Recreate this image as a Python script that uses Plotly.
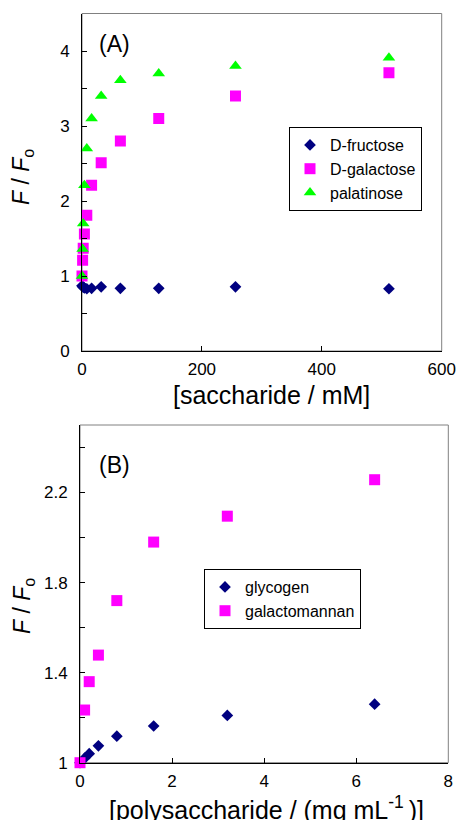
import plotly.graph_objects as go

W, H = 458, 820

# Panel A data (saccharide concentration, mM)
conc_a = [0, 1, 2, 4, 8, 16, 32, 64, 128, 256, 512]
fructose = [0.87, 0.86, 0.85, 0.84, 0.83, 0.835, 0.855, 0.835, 0.835, 0.855, 0.83]
galactose = [1.0, 1.21, 1.37, 1.56, 1.81, 2.21, 2.51, 2.8, 3.1, 3.4, 3.71]
palatinose = [1.0, 1.36, 1.7, 2.21, 2.7, 3.1, 3.4, 3.61, 3.7, 3.8, 3.91]

# Panel B data (polysaccharide concentration, mg/mL)
conc_b = [0, 0.1, 0.2, 0.4, 0.8, 1.6, 3.2, 6.4]
glycogen = [1.0, 1.02, 1.04, 1.075, 1.118, 1.163, 1.21, 1.26]
galactomannan = [1.0, 1.234, 1.36, 1.478, 1.72, 1.98, 2.095, 2.257]

FONT = "Liberation Sans, Arial, sans-serif"
NAVY = "#000080"
MAG = "#FF00FF"
GREEN = "#00FF00"

fig = go.Figure()

def px_x(p):
    return p / W

def px_y(p):
    return 1 - p / H

mk_diamond = dict(symbol="diamond", size=9, color=NAVY)
mk_square = dict(symbol="square", size=11, color=MAG)
mk_tri = dict(symbol="triangle-up", size=11, color=GREEN)

fig.add_trace(go.Scatter(x=conc_a, y=fructose, mode="markers", name="D-fructose",
                         marker=mk_diamond, xaxis="x", yaxis="y", legend="legend", cliponaxis=False))
fig.add_trace(go.Scatter(x=conc_a, y=galactose, mode="markers", name="D-galactose",
                         marker=mk_square, xaxis="x", yaxis="y", legend="legend", cliponaxis=False))
fig.add_trace(go.Scatter(x=conc_a, y=palatinose, mode="markers", name="palatinose",
                         marker=mk_tri, xaxis="x", yaxis="y", legend="legend", cliponaxis=False))

fig.add_trace(go.Scatter(x=conc_b, y=glycogen, mode="markers", name="glycogen",
                         marker=mk_diamond, xaxis="x2", yaxis="y2", legend="legend2", cliponaxis=False))
fig.add_trace(go.Scatter(x=conc_b, y=galactomannan, mode="markers", name="galactomannan",
                         marker=mk_square, xaxis="x2", yaxis="y2", legend="legend2", cliponaxis=False))

axis_common = dict(showline=True, linecolor="black", linewidth=1, ticks="inside", ticklen=5,
                   tickcolor="black", showgrid=False, zeroline=False, mirror=False,
                   tickfont=dict(family=FONT, size=17, color="black"), automargin=False)

fig.update_layout(
    width=W, height=H, margin=dict(l=0, r=0, t=0, b=0),
    paper_bgcolor="white", plot_bgcolor="white",
    font=dict(family=FONT, color="black"),
    xaxis=dict(domain=[px_x(82), px_x(441.7)], range=[0, 600], dtick=200, tick0=0,
               anchor="y", ticklabelstandoff=3, **axis_common),
    yaxis=dict(domain=[px_y(351), px_y(13.5)], range=[0, 4.5], dtick=1, tick0=0,
               minor=dict(dtick=0.5, ticks="inside", ticklen=5, tickcolor="black"),
               anchor="x", ticklabelstandoff=8, **axis_common),
    xaxis2=dict(domain=[px_x(80), px_x(448.3)], range=[0, 8], dtick=2, tick0=0,
                anchor="y2", ticklabelstandoff=3, **axis_common),
    yaxis2=dict(domain=[px_y(762.7), px_y(425)], range=[1, 2.5], dtick=0.4, tick0=1,
                minor=dict(dtick=0.2, ticks="inside", ticklen=5, tickcolor="black"),
                anchor="x2", ticklabelstandoff=8, **axis_common),
    legend=dict(x=px_x(289), y=px_y(127), xanchor="left", yanchor="top",
                bordercolor="black", borderwidth=1, bgcolor="white",
                font=dict(family=FONT, size=16, color="black"), itemwidth=30),
    legend2=dict(x=px_x(204), y=px_y(569), xanchor="left", yanchor="top",
                 bordercolor="black", borderwidth=1, bgcolor="white",
                 font=dict(family=FONT, size=16, color="black"), itemwidth=30),
    showlegend=True,
)

# gray frame (top/right border)
for xa, ya in (("x", "y"), ("x2", "y2")):
    fig.add_shape(type="rect", xref=f"{xa} domain", yref=f"{ya} domain", x0=0, x1=1, y0=0, y1=1,
                  line=dict(color="#808080", width=1), layer="below")

ann = []
ann.append(dict(text="(A)", x=px_x(97), y=px_y(44), xref="paper", yref="paper",
                xanchor="left", yanchor="middle", showarrow=False, font=dict(family=FONT, size=23)))
ann.append(dict(text="(B)", x=px_x(97), y=px_y(465), xref="paper", yref="paper",
                xanchor="left", yanchor="middle", showarrow=False, font=dict(family=FONT, size=23)))
ann.append(dict(text="<i>F</i> / <i>F</i><sub>o</sub>", x=px_x(23), y=px_y(177), xref="paper", yref="paper",
                xanchor="center", yanchor="middle", textangle=-90, showarrow=False,
                font=dict(family=FONT, size=23)))
ann.append(dict(text="<i>F</i> / <i>F</i><sub>o</sub>", x=px_x(23), y=px_y(606), xref="paper", yref="paper",
                xanchor="center", yanchor="middle", textangle=-90, showarrow=False,
                font=dict(family=FONT, size=23)))
ann.append(dict(text="[saccharide / mM]", x=px_x(271), y=px_y(395), xref="paper", yref="paper",
                xanchor="center", yanchor="middle", showarrow=False, font=dict(family=FONT, size=25)))
ann.append(dict(text="[polysaccharide / (mg mL<sup>-1 </sup>)]", x=px_x(266), y=px_y(808), xref="paper", yref="paper",
                xanchor="center", yanchor="middle", showarrow=False, font=dict(family=FONT, size=25)))
fig.update_layout(annotations=ann)

fig.write_html("out.html", config={"displayModeBar": False},
               post_script="document.body.style.margin='0';document.body.style.overflow='hidden';")
